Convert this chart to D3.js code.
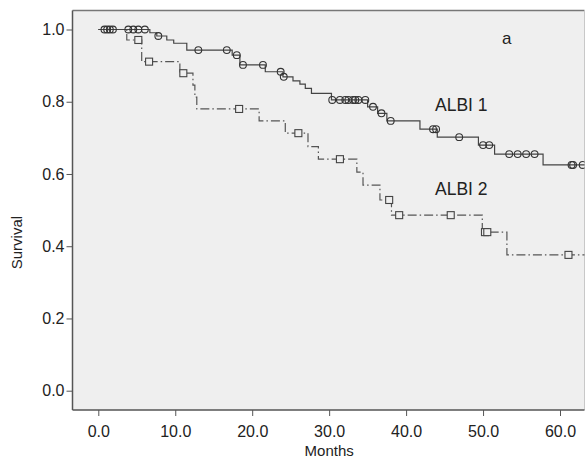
<!DOCTYPE html>
<html>
<head>
<meta charset="utf-8">
<script src="https://cdn.jsdelivr.net/npm/d3@7/dist/d3.min.js"></script>
<style>
  html, body { margin: 0; padding: 0; background: #ffffff; }
  svg { display: block; }
  text { font-family: "Liberation Sans", Arial, Helvetica, sans-serif; fill: #222; }
</style>
</head>
<body>
<svg id="chart" width="585" height="460"></svg>
<script>
// ---- Data ----
const xTickValues = [0, 10, 20, 30, 40, 50, 60];
const yTickValues = [0, 0.2, 0.4, 0.6, 0.8, 1.0];

// ALBI 1: step times (months) and survival after each step
const albi1Times = [0, 6.7, 7.6, 8.9, 9.8, 11.5, 17.4, 18.4, 21.7, 24.0, 25.3, 26.2, 26.9, 27.7, 30.3, 35.0, 36.3, 37.5, 41.8, 44.05, 49.4, 51.5, 57.8];
const albi1Surv  = [1.0, 0.991, 0.982, 0.971, 0.962, 0.943, 0.929, 0.902, 0.883, 0.869, 0.858, 0.849, 0.837, 0.823, 0.805, 0.786, 0.768, 0.747, 0.724, 0.702, 0.680, 0.655, 0.625];
const albi1Censored = [0.8, 1.15, 1.5, 1.9, 3.9, 4.55, 5.2, 6.05, 7.8, 13.0, 16.7, 18.0, 18.8, 21.4, 23.7, 24.1, 30.4, 31.4, 32.1, 32.5, 33.1, 33.4, 33.8, 34.7, 35.7, 36.8, 38.0, 43.5, 43.9, 46.9, 50.0, 50.8, 53.4, 54.5, 55.6, 56.7, 61.5, 61.7, 62.95];

// ALBI 2
const albi2Times = [0, 3.7, 5.64, 10.6, 12.3, 12.55, 12.8, 20.9, 24.3, 27.25, 28.6, 33.6, 34.4, 36.6, 38.1, 49.9, 53.1];
const albi2Surv  = [1.0, 0.971, 0.911, 0.879, 0.846, 0.813, 0.780, 0.747, 0.713, 0.676, 0.641, 0.605, 0.569, 0.528, 0.486, 0.439, 0.376];
const albi2Censored = [5.2, 6.6, 11.05, 18.3, 26.0, 31.4, 37.8, 39.1, 45.8, 50.25, 50.55, 61.1];

const followUpEnd = 63.4;
const seriesLabels = ["ALBI 1", "ALBI 2"];
const panelLabel = "a";
const xTitle = "Months";
const yTitle = "Survival";

// ---- Layout ----
const plot = { left: 72.5, top: 10.5, right: 584.5, bottom: 410 };

const svg = d3.select("#chart");

const x = d3.scaleLinear().domain([0, 60]).range([98.3, 560]);
const y = d3.scaleLinear().domain([0, 1]).range([390.7, 29.5]);

// plot background
svg.append("rect")
  .attr("x", plot.left).attr("y", plot.top)
  .attr("width", plot.right - plot.left).attr("height", plot.bottom - plot.top)
  .attr("fill", "#efefef");

// borders
svg.append("line").attr("x1", plot.left).attr("x2", plot.right).attr("y1", plot.top).attr("y2", plot.top)
  .attr("stroke", "#777").attr("stroke-width", 1.5);
svg.append("line").attr("x1", plot.right).attr("x2", plot.right).attr("y1", plot.top).attr("y2", plot.bottom)
  .attr("stroke", "#c8c8c8").attr("stroke-width", 1);

// axes
const xAxis = d3.axisBottom(x).tickValues(xTickValues).tickFormat(d3.format(".1f")).tickSize(6).tickSizeOuter(0);
const yAxis = d3.axisLeft(y).tickValues(yTickValues).tickFormat(d3.format(".1f")).tickSize(6).tickSizeOuter(0);

const gx = svg.append("g").attr("transform", `translate(0,${plot.bottom})`).call(xAxis);
gx.select(".domain").remove();
gx.append("line").attr("x1", plot.left).attr("x2", plot.right).attr("y1", 0).attr("y2", 0)
  .attr("stroke", "#555").attr("stroke-width", 1.5);
gx.selectAll(".tick line").attr("stroke", "#555");
gx.selectAll(".tick text").attr("font-size", 16).attr("y", 11).attr("dy", "1.0em").attr("fill", "#222")
  .style("font-family", "'Liberation Sans', Arial, sans-serif");

const gy = svg.append("g").attr("transform", `translate(${plot.left},0)`).call(yAxis);
gy.select(".domain").remove();
gy.append("line").attr("x1", 0).attr("x2", 0).attr("y1", plot.top).attr("y2", plot.bottom)
  .attr("stroke", "#555").attr("stroke-width", 1.5);
gy.selectAll(".tick line").attr("stroke", "#555");
gy.selectAll(".tick text").attr("font-size", 16).attr("x", -8).attr("fill", "#222")
  .style("font-family", "'Liberation Sans', Arial, sans-serif");

// titles
svg.append("text").attr("x", (x(0) + x(60)) / 2).attr("y", 456).attr("text-anchor", "middle")
  .attr("font-size", 15).text(xTitle);
svg.append("text").attr("transform", `translate(22,${y(0.41)}) rotate(-90)`).attr("text-anchor", "middle")
  .attr("font-size", 15).text(yTitle);

// ---- Curves ----
function stepPoints(times, surv, end) {
  const pts = times.map((t, i) => [t, surv[i]]);
  pts.push([end, surv[surv.length - 1]]);
  return pts;
}
function survAt(times, surv, t) {
  let s = surv[0];
  for (let i = 0; i < times.length; i++) { if (times[i] <= t) s = surv[i]; }
  return s;
}

const line = d3.line().x(d => x(d[0])).y(d => y(d[1])).curve(d3.curveStepAfter);
svg.append("clipPath").attr("id", "clip").append("rect")
  .attr("x", plot.left).attr("y", plot.top).attr("width", plot.right - plot.left).attr("height", plot.bottom - plot.top);

const curves = svg.append("g").attr("clip-path", "url(#clip)");

curves.append("path").datum(stepPoints(albi2Times, albi2Surv, followUpEnd))
  .attr("d", line).attr("fill", "none").attr("stroke", "#555").attr("stroke-width", 1.2)
  .attr("stroke-dasharray", "9,3,1.5,3");

curves.append("path").datum(stepPoints(albi1Times, albi1Surv, followUpEnd))
  .attr("d", line).attr("fill", "none").attr("stroke", "#444").attr("stroke-width", 1.2);

curves.selectAll("rect.cens2").data(albi2Censored).join("rect").attr("class", "cens2")
  .attr("x", d => x(d) - 3.5).attr("y", d => y(survAt(albi2Times, albi2Surv, d)) - 3.5)
  .attr("width", 7).attr("height", 7)
  .attr("fill", "#efefef").attr("stroke", "#444").attr("stroke-width", 1.1);

curves.selectAll("circle.cens1").data(albi1Censored).join("circle").attr("class", "cens1")
  .attr("cx", d => x(d)).attr("cy", d => y(survAt(albi1Times, albi1Surv, d)))
  .attr("r", 3.4)
  .attr("fill", "none").attr("stroke", "#333").attr("stroke-width", 1.1);

// labels
svg.append("text").attr("x", 435).attr("y", 111).attr("font-size", 17.5).text(seriesLabels[0]);
svg.append("text").attr("x", 435).attr("y", 195).attr("font-size", 17.5).text(seriesLabels[1]);
svg.append("text").attr("x", 502).attr("y", 44).attr("font-size", 17).text(panelLabel);
</script>
</body>
</html>
